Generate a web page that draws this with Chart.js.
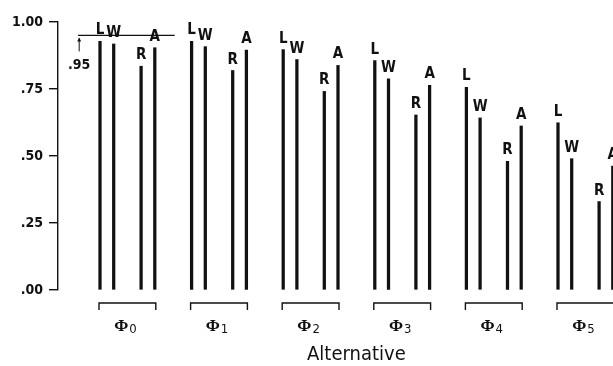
<!DOCTYPE html>
<html>
<head>
<meta charset="utf-8">
<script src="https://cdn.jsdelivr.net/npm/chart.js@4/dist/chart.umd.min.js"></script>
<style>
  html, body { margin: 0; padding: 0; background: #fff; overflow: hidden; }
  #wrap { width: 613px; height: 366px; }
</style>
</head>
<body>
<div id="wrap"><canvas id="c" width="613" height="366"></canvas></div>
<script>
// Alternatives Φ0 … Φ5 and the four measures drawn for each one
const alternatives = ['0', '1', '2', '3', '4', '5'];
const seriesNames = ['L', 'W', 'R', 'A'];
const valuesL = [0.928, 0.928, 0.897, 0.856, 0.756, 0.624];
const valuesW = [0.918, 0.908, 0.860, 0.788, 0.642, 0.490];
const valuesR = [0.835, 0.819, 0.741, 0.653, 0.480, 0.330];
const valuesA = [0.904, 0.895, 0.838, 0.764, 0.612, 0.462];
const yTickValues = [0, 0.25, 0.5, 0.75, 1.0];
const yTickLabels = ['.00', '.25', '.50', '.75', '1.00'];
const criterionValue = 0.95;
const criterionLabel = '.95';
const xTitle = 'Alternative';

// Layout: each alternative occupies GROUP_STEP units on the x scale,
// the four measures sit in slots L W _ R A inside it.
const GROUP_STEP = 6.686;
const SLOT = [0, 1, 3, 4];
const INK = '#111';
const COND = '"DejaVu Sans Condensed", "DejaVu Sans", sans-serif';
const SERIF = '"Liberation Serif", "DejaVu Serif", serif';

const seriesValues = [valuesL, valuesW, valuesR, valuesA];
const datasets = seriesNames.map((name, s) => ({
  label: name,
  data: seriesValues[s].map((v, g) => ({ x: g * GROUP_STEP + SLOT[s], y: v })),
  backgroundColor: INK,
  borderWidth: 0,
  barThickness: 2.6,
  grouped: false
}));

// Letters above each line, the .95 reference line, brackets, Φ labels and axis title
const annotations = {
  id: 'annotations',
  afterDatasetsDraw(chart) {
    const { ctx, chartArea, scales: { x, y } } = chart;
    ctx.save();
    ctx.fillStyle = INK;
    ctx.strokeStyle = INK;

    // measure letters
    ctx.font = 'bold 15px ' + COND;
    ctx.textAlign = 'center';
    ctx.textBaseline = 'alphabetic';
    chart.data.datasets.forEach((ds, i) => {
      chart.getDatasetMeta(i).data.forEach(bar => {
        ctx.fillText(ds.label, bar.x, bar.y - 7);
      });
    });

    // criterion line with arrow and value
    const yc = y.getPixelForValue(criterionValue);
    const x0 = x.getPixelForValue(-1.6);
    const x1 = x.getPixelForValue(SLOT[3] + 1.45);
    ctx.lineWidth = 1.4;
    ctx.beginPath();
    ctx.moveTo(x0, yc);
    ctx.lineTo(x1, yc);
    ctx.stroke();
    const xa = x.getPixelForValue(-1.52);
    ctx.lineWidth = 1;
    ctx.beginPath();
    ctx.moveTo(xa, yc + 3);
    ctx.lineTo(xa, yc + 16);
    ctx.stroke();
    ctx.beginPath();
    ctx.moveTo(xa, yc + 2);
    ctx.lineTo(xa - 2, yc + 6);
    ctx.lineTo(xa + 2, yc + 6);
    ctx.closePath();
    ctx.fill();
    ctx.font = 'bold 14px ' + COND;
    ctx.textAlign = 'center';
    ctx.fillText(criterionLabel, xa, yc + 34);

    // brackets and Φ labels under each alternative
    const first = chart.getDatasetMeta(0).data;
    const last = chart.getDatasetMeta(seriesNames.length - 1).data;
    const top = chartArea.bottom + 13;
    alternatives.forEach((sub, g) => {
      const l = first[g].x - 1;
      const r = last[g].x + 1;
      ctx.lineWidth = 1.4;
      ctx.beginPath();
      ctx.moveTo(l, top + 7);
      ctx.lineTo(l, top);
      ctx.lineTo(r, top);
      ctx.lineTo(r, top + 7);
      ctx.stroke();

      ctx.font = 'bold 17px ' + SERIF;
      const wPhi = ctx.measureText('Φ').width;
      ctx.font = '13px ' + COND;
      const wSub = ctx.measureText(sub).width;
      const cx = (first[g].x + last[g].x) / 2 - 2;
      const sx = cx - (wPhi + wSub + 1) / 2;
      ctx.textAlign = 'left';
      ctx.font = 'bold 17px ' + SERIF;
      ctx.fillText('Φ', sx, top + 28);
      ctx.font = '13px ' + COND;
      ctx.fillText(sub, sx + wPhi + 1, top + 30);
    });

    // axis title, centred under the six alternatives
    const n = alternatives.length - 1;
    ctx.font = '20px ' + COND;
    ctx.textAlign = 'center';
    ctx.fillText(xTitle, (first[0].x + last[n].x) / 2, chartArea.bottom + 70);
    ctx.restore();
  }
};

new Chart(document.getElementById('c'), {
  type: 'bar',
  data: { datasets },
  options: {
    responsive: false,
    devicePixelRatio: 1,
    animation: false,
    layout: { padding: { top: 22, right: 0, bottom: 76, left: 0 } },
    plugins: { legend: { display: false }, tooltip: { enabled: false } },
    scales: {
      x: {
        type: 'linear',
        display: false,
        offset: false,
        min: -3.066,
        max: 37.445
      },
      y: {
        min: 0,
        max: 1,
        afterBuildTicks: scale => { scale.ticks = yTickValues.map(v => ({ value: v })); },
        afterFit: scale => { scale.width = 58; },
        ticks: {
          color: INK,
          padding: 6,
          font: { family: COND, size: 14, weight: 'bold' },
          callback: v => yTickLabels[yTickValues.indexOf(v)]
        },
        grid: {
          display: true,
          drawOnChartArea: false,
          drawTicks: true,
          tickLength: 9,
          color: INK,
          lineWidth: 1.4
        },
        border: { display: true, color: INK, width: 1.4 }
      }
    }
  },
  plugins: [annotations]
});
</script>
</body>
</html>
